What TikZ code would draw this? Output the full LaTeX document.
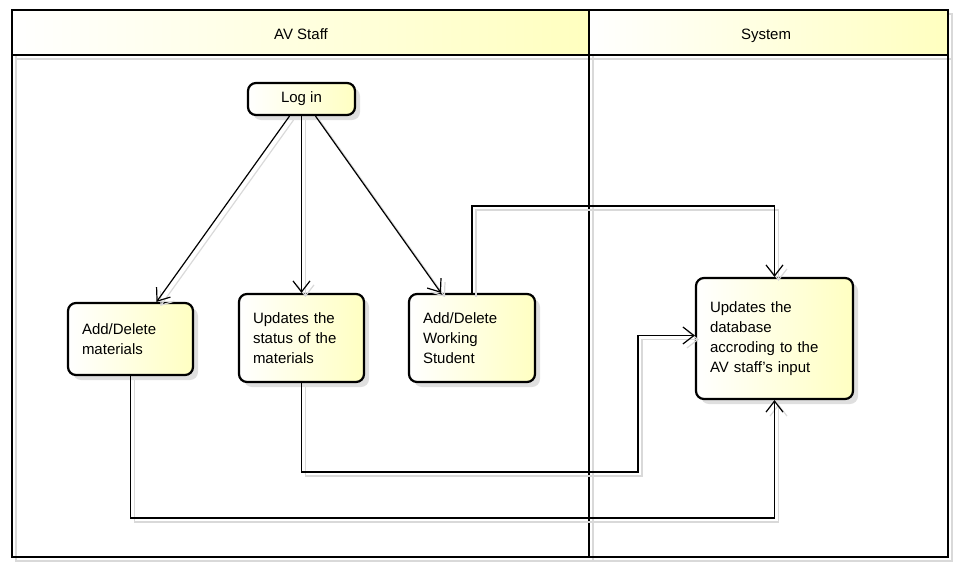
\documentclass[tikz,border=0pt]{standalone}
\usepackage{fontspec}
\setmainfont{Liberation Sans}
\usetikzlibrary{arrows.meta,shadows}
\tikzset{>={Straight Barb[length=11pt,width=17pt]}}

\begin{document}
\begin{tikzpicture}[x=1pt,y=-1pt,
  every node/.style={font=\fontsize{15}{20}\selectfont},
  act/.style={draw,line width=2.2pt,rounded corners=8pt,left color=white,right color=yellow!24,
    drop shadow={shadow xshift=5pt,shadow yshift=-5pt,fill=gray!50,opacity=0.5},
    align=left,inner xsep=14pt,inner ysep=0pt},
  lane/.style={draw,line width=2.6pt},
  laneghost/.style={draw=gray!30,line width=2pt,transform canvas={shift={(4pt,-4pt)}}},
  conn/.style={draw,line width=1.2pt,->},
  ghost/.style={draw=gray!30,line width=1.2pt,->,transform canvas={shift={(4pt,-4pt)}}}]
\useasboundingbox (0,0) rectangle (956,576);

% swimlanes
\draw[laneghost] (12,10) rectangle (589,557) (589,10) rectangle (948,557) (12,55) -- (948,55);
\shade[left color=white,right color=yellow!25] (12,10) rectangle (589,55);
\shade[left color=white,right color=yellow!25] (589,10) rectangle (948,55);
\draw[lane] (12,10) rectangle (589,557) (589,10) rectangle (948,557) (12,55) -- (948,55);
\node[anchor=base] (avlane) at (301,39.5) {AV Staff};
\node[anchor=base] (syslane) at (766,39.5) {System};

% activities
\node[act,align=center,minimum width=107pt,minimum height=32pt] (login) at (301.5,99) {Log in};
\node[act,text width=97pt,minimum height=72pt] (addmat) at (130.5,339) {Add/Delete\\materials};
\node[act,text width=97pt,minimum height=88pt] (status) at (301.5,338) {Updates the\\status of the\\materials};
\node[act,text width=98pt,minimum height=88pt] (addws) at (472,338) {Add/Delete\\Working\\Student};
\node[act,text width=129pt,minimum height=121pt] (updb) at (774.5,338.5) {Updates the\\database\\accroding to the\\AV staff's input};

\coordinate (bend1) at (638,472);
\coordinate (bend2) at (774.5,518);

% flows
\foreach \s in {ghost,conn} {
  \draw[\s] ([xshift=-12pt]login.south) -- ([xshift=26pt]addmat.north);
  \draw[\s] (login.south) -- (status.north);
  \draw[\s] ([xshift=14pt]login.south) -- ([xshift=-31pt]addws.north);
  \draw[\s] (addws.north) -- ++(0,-87) -| (updb.north);
  \draw[\s] (status.south) |- (bend1) |- ([yshift=3pt]updb.west);
  \draw[\s] (addmat.south) |- (bend2) -- (updb.south);
}
\end{tikzpicture}
\end{document}
